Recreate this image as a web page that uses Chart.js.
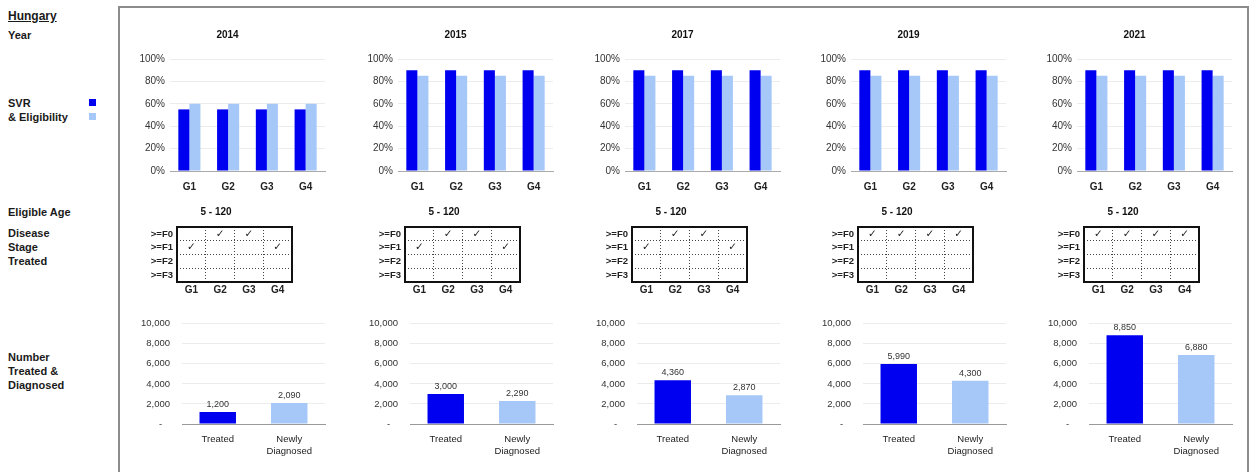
<!DOCTYPE html>
<html><head><meta charset="utf-8">
<script src="https://cdn.jsdelivr.net/npm/chart.js@4.4.1/dist/chart.umd.min.js"></script>
<style>
html,body{margin:0;padding:0;background:#fff;width:1254px;height:472px;overflow:hidden;font-family:'Liberation Sans',Arial,sans-serif;}
.lbl{position:absolute;left:8px;font-weight:bold;font-size:11px;color:#1a1a1a;line-height:14px;white-space:nowrap;}
#frame{position:absolute;left:118px;top:6px;width:1131px;height:480px;border:2px solid #8c8c8c;box-sizing:border-box;}
canvas{position:absolute;}
.sw{position:absolute;left:89px;width:7px;height:7px;}
</style></head><body>
<div id="frame"></div>
<div class="lbl" style="top:9px;font-size:12px;text-decoration:underline">Hungary</div>
<div class="lbl" style="top:28px">Year</div>
<div class="lbl" style="top:96px">SVR<br>&amp; Eligibility</div>
<div class="sw" style="top:99px;background:#0000f0"></div>
<div class="sw" style="top:113px;background:#a6c8f8"></div>
<div class="lbl" style="top:205px">Eligible Age</div>
<div class="lbl" style="top:226px">Disease<br>Stage<br>Treated</div>
<div class="lbl" style="top:350px">Number<br>Treated &amp;<br>Diagnosed</div>
<script>
// ---- data ----
const years = ['2014', '2015', '2017', '2019', '2021'];
const genotypes = ['G1', 'G2', 'G3', 'G4'];
const svr = [
  [55, 55, 55, 55],
  [90, 90, 90, 90],
  [90, 90, 90, 90],
  [90, 90, 90, 90],
  [90, 90, 90, 90]
];
const eligibility = [
  [60, 60, 60, 60],
  [85, 85, 85, 85],
  [85, 85, 85, 85],
  [85, 85, 85, 85],
  [85, 85, 85, 85]
];
const eligibleAge = ['5 - 120', '5 - 120', '5 - 120', '5 - 120', '5 - 120'];
const stages = ['>=F0', '>=F1', '>=F2', '>=F3'];
const stageChecks = [
  [['G2', '>=F0'], ['G3', '>=F0'], ['G1', '>=F1'], ['G4', '>=F1']],
  [['G2', '>=F0'], ['G3', '>=F0'], ['G1', '>=F1'], ['G4', '>=F1']],
  [['G2', '>=F0'], ['G3', '>=F0'], ['G1', '>=F1'], ['G4', '>=F1']],
  [['G1', '>=F0'], ['G2', '>=F0'], ['G3', '>=F0'], ['G4', '>=F0']],
  [['G1', '>=F0'], ['G2', '>=F0'], ['G3', '>=F0'], ['G4', '>=F0']]
];
const countCategories = ['Treated', ['Newly', 'Diagnosed']];
const treated = [1200, 3000, 4360, 5990, 8850];
const diagnosed = [2090, 2290, 2870, 4300, 6880];
const pctTickStep = 20;
const countTickStep = 2000;

// ---- styles ----
const DARK = '#0000f0', LIGHT = '#a6c8f8';
const panelDx = [0, 228, 455, 681, 907];
Chart.defaults.font.family = "'Liberation Sans', Arial, sans-serif";
Chart.defaults.color = '#333';
Chart.defaults.animation = false;

function mk(left, top, w, h) {
  const c = document.createElement('canvas');
  c.width = w; c.height = h;
  c.style.left = left + 'px'; c.style.top = top + 'px';
  c.style.width = w + 'px'; c.style.height = h + 'px';
  document.body.appendChild(c);
  return c.getContext('2d');
}

const boxPlugin = {
  id: 'box',
  afterDraw(chart) {
    const a = chart.chartArea, ctx = chart.ctx;
    ctx.save(); ctx.strokeStyle = '#111'; ctx.lineWidth = 2;
    ctx.strokeRect(a.left, a.top, a.right - a.left, a.bottom - a.top);
    ctx.restore();
  }
};
const checkPlugin = {
  id: 'checks',
  afterDatasetsDraw(chart) {
    const ctx = chart.ctx;
    ctx.save(); ctx.fillStyle = '#222'; ctx.font = "10.5px 'DejaVu Sans'";
    ctx.textAlign = 'center'; ctx.textBaseline = 'middle';
    chart.getDatasetMeta(0).data.forEach(p => ctx.fillText('\u2713', p.x, p.y));
    ctx.restore();
  }
};
const valuePlugin = {
  id: 'vals',
  afterDatasetsDraw(chart) {
    const ctx = chart.ctx, ds = chart.data.datasets[0];
    ctx.save(); ctx.fillStyle = '#333'; ctx.font = "9px 'Liberation Sans'";
    ctx.textAlign = 'center'; ctx.textBaseline = 'bottom';
    chart.getDatasetMeta(0).data.forEach((b, i) =>
      ctx.fillText(ds.data[i].toLocaleString('en-US'), b.x, b.y - 3));
    ctx.restore();
  }
};

years.forEach((yr, i) => {
  const dx = panelDx[i];
  // SVR & eligibility
  new Chart(mk(130 + dx, 25, 215, 166), {
    type: 'bar',
    data: {
      labels: genotypes,
      datasets: [
        { label: 'SVR', data: svr[i], backgroundColor: DARK },
        { label: 'Eligibility', data: eligibility[i], backgroundColor: LIGHT }
      ]
    },
    options: {
      responsive: false,
      categoryPercentage: 0.57, barPercentage: 1,
      layout: { padding: { right: 20 } },
      plugins: {
        legend: { display: false }, tooltip: { enabled: false },
        title: { display: true, text: yr, color: '#111', font: { size: 10, weight: 'bold' }, padding: { top: 4, bottom: 18 } }
      },
      scales: {
        x: {
          grid: { display: false }, border: { color: '#aaa' },
          ticks: { font: { size: 10, weight: 'bold' }, color: '#222', padding: 2 },
          afterFit(s) { s.height = 20; }
        },
        y: {
          min: 0, max: 100,
          ticks: { stepSize: pctTickStep, callback: v => v + '%', font: { size: 10 }, color: '#333', padding: 5 },
          grid: { color: '#ececec', drawTicks: false }, border: { display: false },
          afterFit(s) { s.width = 40; }
        }
      }
    }
  });

  // Disease stage grid
  new Chart(mk(140 + dx, 202, 188, 96), {
    type: 'scatter',
    data: {
      datasets: [{ data: stageChecks[i].map(([g, s]) => ({ x: g, y: s })), pointRadius: 0 }]
    },
    options: {
      responsive: false,
      layout: { padding: { right: 36 } },
      plugins: {
        legend: { display: false }, tooltip: { enabled: false },
        title: { display: true, text: eligibleAge[i], color: '#111', font: { size: 10, weight: 'bold' }, padding: { top: 4, bottom: 9 } }
      },
      scales: {
        x: {
          type: 'category', labels: genotypes, offset: true,
          grid: { offset: true, color: '#444', drawTicks: false }, border: { display: false, dash: [1, 2] },
          ticks: { autoSkip: false, font: { size: 10, weight: 'bold' }, color: '#222', padding: 2 },
          afterFit(s) { s.height = 16; }
        },
        y: {
          type: 'category', labels: stages, offset: true,
          grid: { offset: true, color: '#444', drawTicks: false }, border: { display: false, dash: [1, 2] },
          ticks: { autoSkip: false, font: { size: 9.5, weight: 'bold' }, color: '#222', padding: 4 },
          afterFit(s) { s.width = 37; }
        }
      }
    },
    plugins: [checkPlugin, boxPlugin]
  });

  // Number treated & diagnosed
  new Chart(mk(125 + dx, 306, 210, 158), {
    type: 'bar',
    data: {
      labels: countCategories,
      datasets: [{ data: [treated[i], diagnosed[i]], backgroundColor: [DARK, LIGHT] }]
    },
    options: {
      responsive: false,
      categoryPercentage: 1, barPercentage: 0.51,
      layout: { padding: { top: 0, right: 10 } },
      plugins: { legend: { display: false }, tooltip: { enabled: false } },
      scales: {
        x: {
          grid: { display: false }, border: { color: '#999' },
          ticks: { font: { size: 9.5 }, color: '#222', padding: 2 },
          afterFit(s) { s.height = 40; }
        },
        y: {
          min: 0, max: 10000,
          ticks: { stepSize: countTickStep, callback: v => v === 0 ? '-   ' : v.toLocaleString('en-US'), font: { size: 9.5 }, color: '#333', padding: 12 },
          grid: { color: '#ececec', drawTicks: false }, border: { display: false },
          afterFit(s) { s.width = 57; }
        }
      }
    },
    plugins: [valuePlugin]
  });
});
</script>
</body></html>
